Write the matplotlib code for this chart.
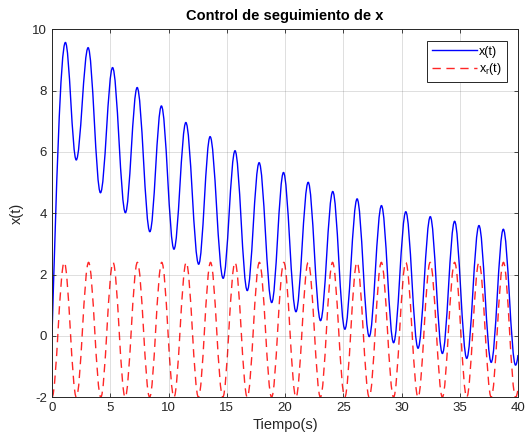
import matplotlib
matplotlib.use('Agg')
import matplotlib.pyplot as plt
from matplotlib.path import Path
from matplotlib.patches import PathPatch
from matplotlib.lines import Line2D

plt.rcParams['font.family'] = ['Liberation Sans', 'DejaVu Sans']
plt.rcParams['mathtext.default'] = 'regular'
plt.rcParams['axes.unicode_minus'] = False

# turning points of x(t): start, peak, trough, ..., end
t_x = [0.0, 1.15, 2.08, 3.10, 4.16, 5.20, 6.30, 7.31, 8.40, 9.39, 10.47,
       11.49, 12.59, 13.57, 14.69, 15.71, 16.76, 17.78, 18.86, 19.87, 20.94,
       21.99, 23.05, 24.10, 25.14, 26.19, 27.23, 28.28, 29.32, 30.37, 31.42,
       32.47, 33.51, 34.56, 35.60, 36.65, 37.70, 38.74, 39.79, 40.0]
v_x = [0.0, 9.57, 5.74, 9.40, 4.67, 8.75, 4.02, 8.10, 3.40, 7.50, 2.83,
       6.96, 2.34, 6.50, 1.88, 6.04, 1.48, 5.65, 1.09, 5.33, 0.79,
       5.01, 0.50, 4.71, 0.22, 4.47, -0.02, 4.25, -0.22, 4.05, -0.40,
       3.89, -0.57, 3.74, -0.73, 3.60, -0.86, 3.48, -0.95, -0.62]

# turning points of the reference signal x_r(t)
t_r = [0.0, 1.05, 2.09, 3.14, 4.19, 5.24, 6.28, 7.33, 8.38, 9.42, 10.47,
       11.52, 12.57, 13.61, 14.66, 15.71, 16.76, 17.80, 18.85, 19.90, 20.94,
       21.99, 23.04, 24.08, 25.13, 26.18, 27.23, 28.27, 29.32, 30.37, 31.42,
       32.46, 33.51, 34.56, 35.60, 36.65, 37.70, 38.75, 39.79, 40.0]
v_r = [-2.0, 2.4, -2.0, 2.4, -2.0, 2.4, -2.0, 2.4, -2.0, 2.4, -2.0,
       2.4, -2.0, 2.4, -2.0, 2.4, -2.0, 2.4, -2.0, 2.4, -2.0,
       2.4, -2.0, 2.4, -2.0, 2.4, -2.0, 2.4, -2.0, 2.4, -2.0,
       2.4, -2.0, 2.4, -2.0, 2.4, -2.0, 2.4, -2.0, -1.72]

x_ticks = [0, 5, 10, 15, 20, 25, 30, 35, 40]
y_ticks = [-2, 0, 2, 4, 6, 8, 10]


def smooth_path(ts, vs, steep_start=False):
    # cubic segments with flat tangents at every turning point
    k = 0.36
    verts = [(ts[0], vs[0])]
    codes = [Path.MOVETO]
    n = len(ts)
    for i in range(1, n):
        t0, v0, t1, v1 = ts[i - 1], vs[i - 1], ts[i], vs[i]
        dt, dv = t1 - t0, v1 - v0
        if i == 1 and steep_start:
            c1 = (t0 + 0.3 * dt, v0 + 0.47 * dv)
            c2 = (t1 - k * dt, v1)
        elif i == n - 1:
            # last piece stops before the next turning point
            c1 = (t0 + dt / 3, v0)
            c2 = (t0 + 2 * dt / 3, v0 + dv / 3)
        else:
            c1 = (t0 + k * dt, v0)
            c2 = (t1 - k * dt, v1)
        verts += [c1, c2, (t1, v1)]
        codes += [Path.CURVE4] * 3
    return Path(verts, codes)


fig = plt.figure(figsize=(5.28, 4.48), dpi=100)
ax = fig.add_axes([52 / 528, 1 - 397.3 / 448, 466 / 528, 368 / 448])

dark = '#262626'
ax.add_patch(PathPatch(smooth_path(t_x, v_x, steep_start=True), fill=False,
                       edgecolor='blue', lw=1.0))
ax.add_patch(PathPatch(smooth_path(t_r, v_r), fill=False, edgecolor='red',
                       lw=1.0, linestyle=(0, (6, 4)), alpha=0.85))

ax.set_xlim(0, 40)
ax.set_ylim(-2, 10)
ax.set_xticks(x_ticks)
ax.set_yticks(y_ticks)
ax.grid(True, color='#262626', alpha=0.15, lw=0.7)
ax.tick_params(direction='in', length=3, width=0.6, top=True, right=True,
               labelsize=9.5, colors=dark)
for s in ax.spines.values():
    s.set_color(dark)
    s.set_linewidth(0.7)

ax.set_title('Control de seguimiento de x', fontsize=10.5, fontweight='bold',
             color='black', pad=7)
ax.set_xlabel('Tiempo(s)', fontsize=10.5, color=dark, labelpad=3)
ax.set_ylabel('x(t)', fontsize=10.5, color=dark, labelpad=6)

handles = [Line2D([], [], color='blue', lw=1.0),
           Line2D([], [], color='red', lw=1.0, linestyle=(0, (6, 4)), alpha=0.85)]
leg = ax.legend(handles, ['x(t)', 'x$_r$(t)'], loc='upper right', fontsize=9,
                frameon=True, fancybox=False, framealpha=1, edgecolor=dark,
                handlelength=3.6, handletextpad=0.2, borderaxespad=0.9,
                labelspacing=0.3, borderpad=0.4)
leg.get_frame().set_linewidth(0.7)

fig.savefig('out.png', dpi=100)
